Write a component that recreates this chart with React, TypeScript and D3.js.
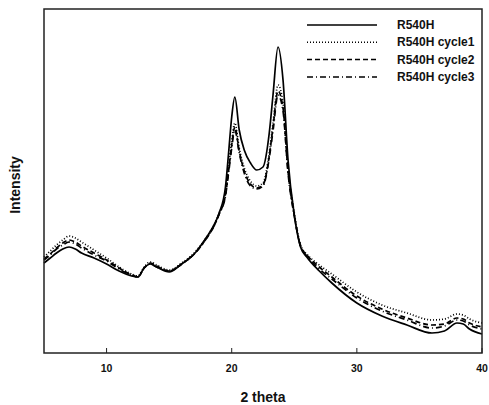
import { useMemo } from "react";
import * as d3 from "d3";

const WIDTH = 489;
const HEIGHT = 405;
const MARGIN = { top: 9, right: 7, bottom: 52, left: 44 };

// 2 theta positions (deg) shared by all four scans
const twoTheta = [
  5, 5.5, 6, 6.5, 7, 7.5, 8, 9, 10, 11, 12, 12.5, 13, 13.5, 14, 15, 16, 17, 18, 18.5, 19, 19.5, 19.75, 20,
  20.25, 20.6, 21, 21.5, 22, 22.5, 23, 23.3, 23.7, 24.1, 24.5, 25, 25.5, 26, 27, 28, 30, 32, 34, 36, 37, 38,
  38.5, 39, 40,
];

// intensities in arbitrary units
const r540h = [
  90, 95, 100, 104, 106, 104, 100, 95, 89, 82, 77, 76, 85, 89, 86, 81, 89, 99, 116, 126, 140, 166, 200, 236,
  256, 223, 203, 190, 183, 186, 220, 258, 306, 273, 193, 138, 106, 96, 82, 70, 50, 37, 28, 20, 22, 30, 29, 24,
  19,
];
const cycle1 = [
  96, 102, 108, 113, 117, 115, 111, 103, 95, 86, 79, 77, 86, 91, 88, 83, 90, 100, 116, 126, 140, 160, 185, 212,
  230, 205, 185, 172, 167, 170, 200, 230, 268, 250, 185, 140, 108, 99, 88, 79, 61, 48, 40, 33, 34, 39, 38, 34,
  30,
];
const cycle2 = [
  94, 99, 105, 110, 113, 111, 107, 100, 93, 85, 78, 76, 85, 90, 87, 82, 89, 99, 115, 125, 139, 158, 182, 208,
  226, 202, 182, 169, 165, 168, 197, 226, 262, 245, 182, 138, 107, 98, 86, 76, 57, 44, 35, 28, 29, 35, 34, 30,
  26,
];
const cycle3 = [
  93, 98, 104, 108, 111, 109, 105, 98, 92, 84, 78, 76, 85, 89, 86, 82, 89, 99, 115, 125, 139, 157, 180, 205,
  223, 200, 180, 167, 164, 167, 195, 222, 258, 242, 180, 137, 107, 97, 84, 74, 55, 42, 33, 25, 27, 33, 32, 28,
  24,
];

const seriesNames = ["R540H", "R540H cycle1", "R540H cycle2", "R540H cycle3"];
const seriesValues = [r540h, cycle1, cycle2, cycle3];
const dashes = ["none", "1,2", "5,3", "6,3,1,3"];
const xTicks = [10, 20, 30, 40];

const FONT = "'Liberation Sans', Arial, sans-serif";

export default function App() {
  const innerW = WIDTH - MARGIN.left - MARGIN.right;
  const innerH = HEIGHT - MARGIN.top - MARGIN.bottom;

  const x = useMemo(() => d3.scaleLinear().domain([5, 40]).range([0, innerW]), [innerW]);
  const y = useMemo(() => d3.scaleLinear().domain([0, 344]).range([innerH, 0]), [innerH]);

  const line = d3
    .line<number>()
    .x((_, i) => x(twoTheta[i]))
    .y((d) => y(d))
    .curve(d3.curveMonotoneX);

  return (
    <svg
      width={WIDTH}
      height={HEIGHT}
      style={{ position: "absolute", left: 0, top: 0, background: "#fff" }}
      fontFamily={FONT}
    >
      <g transform={`translate(${MARGIN.left},${MARGIN.top})`}>
        {seriesValues.map((vals, i) => (
          <path
            key={seriesNames[i]}
            d={line(vals) || ""}
            fill="none"
            stroke="#000"
            strokeWidth={1.7}
            strokeDasharray={dashes[i]}
          />
        ))}

        {/* frame */}
        <rect x={0} y={0} width={innerW} height={innerH} fill="none" stroke="#222" strokeWidth={1.5} />

        {/* bottom ticks, drawn inward */}
        {xTicks.map((t) => (
          <g key={t} transform={`translate(${x(t)},${innerH})`}>
            <line y1={0} y2={-5} stroke="#222" strokeWidth={1} />
            <text y={19} textAnchor="middle" fontSize={10.5} fontWeight="bold" fill="#111">
              {t}
            </text>
          </g>
        ))}

        {/* legend */}
        {seriesNames.map((name, i) => (
          <g key={name} transform={`translate(263,${16 + i * 17.3})`}>
            <line x1={0} x2={70} y1={0} y2={0} stroke="#000" strokeWidth={1.5} strokeDasharray={dashes[i]} />
            <text x={90} y={4} fontSize={12} fontWeight="bold" fill="#111">
              {name}
            </text>
          </g>
        ))}
      </g>

      <text x={263} y={402} textAnchor="middle" fontSize={14} fontWeight="bold" fill="#111">
        2 theta
      </text>
      <text
        transform={`translate(20,185) rotate(-90)`}
        textAnchor="middle"
        fontSize={14}
        fontWeight="bold"
        fill="#111"
      >
        Intensity
      </text>
    </svg>
  );
}
